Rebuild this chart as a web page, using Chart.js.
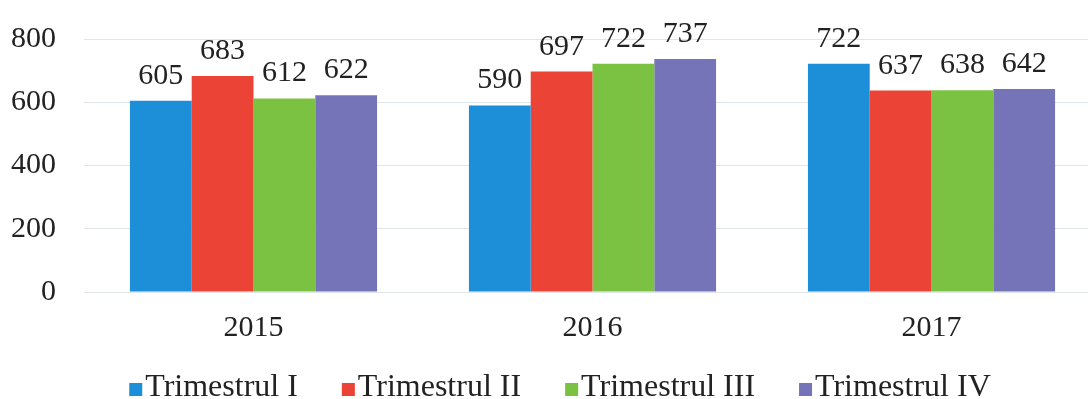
<!DOCTYPE html>
<html>
<head>
<meta charset="utf-8">
<script src="https://cdn.jsdelivr.net/npm/chart.js@4"></script>
<style>
  html, body { margin: 0; padding: 0; background: #fff; overflow: hidden; }
  /* the plot runs a little past the right edge of the frame */
  #wrap { width: 1088px; height: 399px; overflow: hidden; }
</style>
</head>
<body>
<div id="wrap"><canvas id="quarterChart" width="1101" height="399"></canvas></div>
<script>
// Years on the x axis
const years = ['2015', '2016', '2017'];

// Values per quarter
const trimestrulI = [605, 590, 722];
const trimestrulII = [683, 697, 637];
const trimestrulIII = [612, 722, 638];
const trimestrulIV = [622, 737, 642];

const seriesNames = ['Trimestrul I', 'Trimestrul II', 'Trimestrul III', 'Trimestrul IV'];
const seriesColors = ['#1d8ed8', '#eb4335', '#7cc242', '#7574b8'];

// Y axis ticks
const yTicks = [0, 200, 400, 600, 800];

const FONT = '"Liberation Serif", "Times New Roman", serif';
const TEXT_COLOR = '#222';

// Draw the value above each bar
const valueLabels = {
    id: 'valueLabels',
    afterDatasetsDraw(chart) {
        const ctx = chart.ctx;
        ctx.save();
        ctx.font = '30px ' + FONT;
        ctx.fillStyle = TEXT_COLOR;
        ctx.textAlign = 'center';
        ctx.textBaseline = 'alphabetic';
        chart.data.datasets.forEach((ds, i) => {
            chart.getDatasetMeta(i).data.forEach((bar, j) => {
                ctx.fillText(ds.data[j], bar.x, bar.y - 17);
            });
        });
        ctx.restore();
    }
};

// Legend row at the bottom: small square right before each name
const bottomLegend = {
    id: 'bottomLegend',
    afterDraw(chart) {
        const ctx = chart.ctx;
        const box = 13, boxGap = 3, itemGap = 44;
        const baseline = 396, centerX = 560;
        ctx.save();
        ctx.font = '32px ' + FONT;
        ctx.textBaseline = 'alphabetic';
        ctx.textAlign = 'left';
        const items = chart.data.datasets.map(ds => ({
            text: ds.label,
            color: ds.backgroundColor,
            w: box + boxGap + ctx.measureText(ds.label).width
        }));
        const total = items.reduce((s, it) => s + it.w, 0) + itemGap * (items.length - 1);
        let x = centerX - total / 2;
        items.forEach(it => {
            ctx.fillStyle = it.color;
            ctx.fillRect(x, baseline - box, box, box);
            ctx.fillStyle = TEXT_COLOR;
            ctx.fillText(it.text, x + box + boxGap, baseline);
            x += it.w + itemGap;
        });
        ctx.restore();
    }
};

const allSeries = [trimestrulI, trimestrulII, trimestrulIII, trimestrulIV];

new Chart(document.getElementById('quarterChart'), {
    type: 'bar',
    data: {
        labels: years,
        datasets: allSeries.map((vals, i) => ({
            label: seriesNames[i],
            data: vals,
            backgroundColor: seriesColors[i],
            borderWidth: 0,
            categoryPercentage: 0.729,
            barPercentage: 1.0
        }))
    },
    options: {
        responsive: false,
        animation: false,
        layout: { padding: { top: 39, right: 0, left: 7, bottom: 47 } },
        scales: {
            y: {
                min: 0,
                max: 800,
                afterBuildTicks: axis => { axis.ticks = yTicks.map(v => ({ value: v })); },
                afterFit: axis => {
                    axis.width = 77;
                    axis.paddingTop = 0;
                    axis.paddingBottom = 0;
                },
                border: { display: false },
                grid: { color: '#dfe5e8', lineWidth: 1, drawTicks: false },
                ticks: {
                    padding: 28,
                    color: TEXT_COLOR,
                    font: { family: FONT, size: 30 }
                }
            },
            x: {
                afterFit: axis => {
                    axis.height = 60;
                    axis.paddingLeft = 0;
                    axis.paddingRight = 0;
                },
                border: { display: false },
                grid: { display: false },
                ticks: {
                    padding: 10,
                    color: TEXT_COLOR,
                    font: { family: FONT, size: 30 }
                }
            }
        },
        plugins: {
            tooltip: { enabled: false },
            legend: { display: false }
        }
    },
    plugins: [valueLabels, bottomLegend]
});
</script>
</body>
</html>
